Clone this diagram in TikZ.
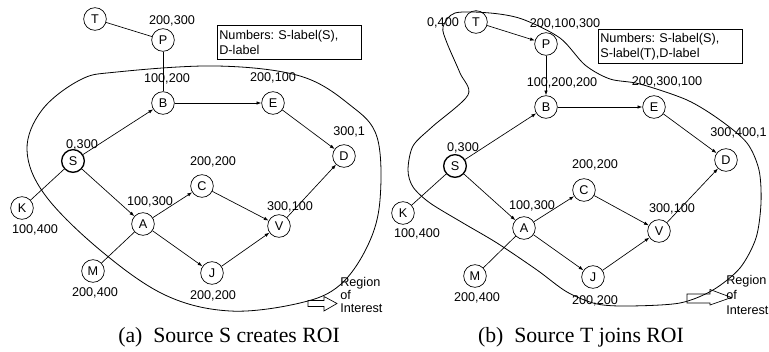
\documentclass[tikz,border=0pt]{standalone}
\usepackage{fontspec}
\setmainfont{Liberation Serif}
\setsansfont{Liberation Sans}
\usetikzlibrary{positioning, arrows.meta}
\frenchspacing

\begin{document}
\begin{tikzpicture}[x=0.75pt, y=-0.75pt,
    vertex/.style={circle, draw, line width=0.5pt, inner sep=0pt, minimum size=17pt,
                   font=\sffamily\fontsize{9.5}{11}\selectfont},
    srcvertex/.style={vertex, line width=1pt},
    lbl/.style={inner sep=0pt, font=\sffamily\fontsize{9.5}{11}\selectfont},
    conn/.style={line width=0.5pt},
    flow/.style={conn, -{Latex[length=3.6pt, width=2.6pt]}},
    roi/.style={line width=0.6pt},
    notebox/.style={draw, line width=0.5pt, anchor=north west, align=left,
                    inner xsep=1.5pt, inner ysep=1.5pt, text width=105pt, minimum height=25.5pt,
                    font=\sffamily\fontsize{9.5}{11.2}\selectfont},
    roitext/.style={anchor=west, align=left, inner sep=0pt},
    caption/.style={font=\fontsize{16.3}{19}\selectfont}]
    \useasboundingbox (0,0) rectangle (769,352);

    % (a) source S creates the region
    \node[vertex] (T1) at (95,19) {T};
    \node[vertex] (P1) at (163,40) {P};
    \node[vertex] (B1) at (163,103) {B};
    \node[vertex] (E1) at (273,103) {E};
    \node[vertex] (D1) at (344,156) {D};
    \node[srcvertex] (S1) at (73,161) {S};
    \node[vertex] (C1) at (202,186) {C};
    \node[vertex] (A1) at (143,224) {A};
    \node[vertex] (V1) at (279,226) {V};
    \node[vertex] (J1) at (212,273) {J};
    \node[vertex] (K1) at (22,208) {K};
    \node[vertex] (M1) at (93,271) {M};

    \node[lbl] (lP1) at (172,21) {200,300};
    \node[lbl] (lB1) at (167,79) {100,200};
    \node[lbl] (lE1) at (273,78) {200,100};
    \node[lbl, anchor=west] (lD1) at (333,132) {300,1};
    \node[lbl] (lS1) at (82,145) {0,300};
    \node[lbl] (lC1) at (213,162) {200,200};
    \node[lbl] (lA1) at (150,202) {100,300};
    \node[lbl] (lV1) at (290,207) {300,100};
    \node[lbl] (lK1) at (35,230) {100,400};
    \node[lbl] (lM1) at (95,293) {200,400};
    \node[lbl] (lJ1) at (213,296) {200,200};

    \node[notebox] (note1) at (217,25) {Numbers: S-label(S),\\D-label};

    \draw[conn] (T1) -- (P1);
    \draw[conn] (P1) -- (B1);
    \draw[flow] (S1) -- (B1);
    \draw[flow] (B1) -- (E1);
    \draw[flow] (E1) -- (D1);
    \draw[flow] (S1) -- (A1);
    \draw[flow] (A1) -- (C1);
    \draw[flow] (A1) -- (J1);
    \draw[flow] (C1) -- (V1);
    \draw[flow] (J1) -- (V1);
    \draw[flow] (V1) -- (D1);
    \draw[conn] (K1) -- (S1);
    \draw[conn] (M1) -- (A1);

    \draw[roi] plot[smooth cycle, tension=0.6] coordinates {(117,72) (217,66) (300,76)
      (350,105) (377,137) (380,200) (368,245) (340,285) (300,303) (230,311) (165,295)
      (100,250) (45,195) (27,150) (42,110) (80,80)};

    \draw[conn] (308,300.5) -- (324,300.5) -- (324,296.5) -- (337,303.5) -- (324,311)
      -- (324,306.5) -- (308,306.5) -- cycle;
    \node[roitext, font=\sffamily\fontsize{9.5}{9.4}\selectfont] (roi1) at (340,295)
      {Region\\of\\Interest};

    \node[caption] (cap1) at (229,337) {(a)\enspace Source S creates ROI};

    % (b) source T joins the region
    \node[vertex] (T2) at (476,22) {T};
    \node[vertex] (P2) at (546,44) {P};
    \node[vertex] (B2) at (546,107) {B};
    \node[vertex] (E2) at (654,107) {E};
    \node[vertex] (D2) at (726,160) {D};
    \node[srcvertex] (S2) at (455,166) {S};
    \node[vertex] (C2) at (584,190) {C};
    \node[vertex] (A2) at (524,228) {A};
    \node[vertex] (V2) at (659,231) {V};
    \node[vertex] (J2) at (593,277) {J};
    \node[vertex] (K2) at (403,213) {K};
    \node[vertex] (M2) at (475,276) {M};

    \node[lbl] (lT2) at (443,23) {0,400};
    \node[lbl] (lP2) at (565,24) {200,100,300};
    \node[lbl] (lB2) at (562,83) {100,200,200};
    \node[lbl] (lE2) at (667,82) {200,300,100};
    \node[lbl, anchor=east] (lD2) at (767,133) {300,400,1};
    \node[lbl] (lS2) at (463,148) {0,300};
    \node[lbl] (lC2) at (595,165) {200,200};
    \node[lbl] (lA2) at (532,206) {100,300};
    \node[lbl] (lV2) at (672,209) {300,100};
    \node[lbl] (lK2) at (417,234) {100,400};
    \node[lbl] (lM2) at (477,298) {200,400};
    \node[lbl] (lJ2) at (595,301) {200,200};

    \node[notebox] (note2) at (598,29) {Numbers: S-label(S),\\S-label(T),D-label};

    \draw[flow] (T2) -- (P2);
    \draw[flow] (P2) -- (B2);
    \draw[flow] (S2) -- (B2);
    \draw[flow] (B2) -- (E2);
    \draw[flow] (E2) -- (D2);
    \draw[flow] (S2) -- (A2);
    \draw[flow] (A2) -- (C2);
    \draw[flow] (A2) -- (J2);
    \draw[flow] (C2) -- (V2);
    \draw[flow] (J2) -- (V2);
    \draw[flow] (V2) -- (D2);
    \draw[conn] (K2) -- (S2);
    \draw[conn] (M2) -- (A2);

    \draw[roi] plot[smooth cycle, tension=0.5] coordinates {(455,13) (490,13) (522,19)
      (560,38) (585,65) (610,79) (640,84) (687,100) (720,120) (747,143) (759,170)
      (761,203) (756,238) (740,268) (713,290) (680,303) (630,306) (597,304) (567,292)
      (537,270) (497,243) (463,223) (430,203) (413,187) (408,170) (413,146) (432,127)
      (468,95) (460,73) (447,43) (443,27)};

    \draw[conn] (687,294) -- (710,294) -- (710,289.5) -- (731.5,297.5) -- (710,305)
      -- (710,303) -- (687,303) -- cycle;
    \node[roitext, font=\sffamily\fontsize{9.5}{11.2}\selectfont] (roi2) at (726,295)
      {Region\\of\\Interest};

    \node[caption] (cap2) at (581,337) {(b)\enspace Source T joins ROI};
\end{tikzpicture}
\end{document}
